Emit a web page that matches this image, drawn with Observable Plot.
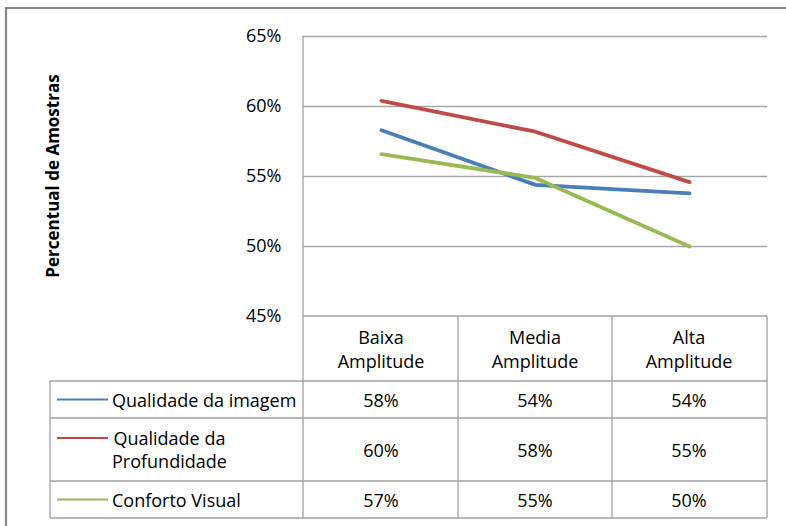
<!DOCTYPE html>
<html>
<head>
<meta charset="utf-8">
<script src="https://cdn.jsdelivr.net/npm/d3@7"></script>
<script src="https://cdn.jsdelivr.net/npm/@observablehq/plot@0.6"></script>
<style>
  html, body { margin: 0; padding: 0; background: #fff; overflow: hidden; }
  #chart svg { display: block; }
</style>
</head>
<body>
<div id="chart"></div>
<script>
// Amplitude categories along x
const categories = ["Baixa Amplitude", "Media Amplitude", "Alta Amplitude"];

// Series names, in table order
const seriesNames = ["Qualidade da imagem", "Qualidade da Profundidade", "Conforto Visual"];

// Share of samples per amplitude category
const qualidadeImagem = [0.583, 0.544, 0.538];
const qualidadeProfundidade = [0.604, 0.582, 0.546];
const confortoVisual = [0.566, 0.549, 0.500];

const seriesColors = ["#4A7EBB", "#BE4B48", "#98B954"];
const yTicks = [0.45, 0.50, 0.55, 0.60, 0.65];
const yTitle = "Percentual de Amostras";

const seriesValues = [qualidadeImagem, qualidadeProfundidade, confortoVisual];
const rows = seriesNames.flatMap((s, i) =>
  categories.map((c, j) => ({series: s, category: c, value: seriesValues[i][j]}))
);

const fontFamily = "'Open Sans', 'Noto Sans', sans-serif";
const fontSize = 18;
const gridColor = "#a6a6a6";
const pct = d3.format(".0%");

const plot = Plot.plot({
  width: 786,
  height: 526,
  marginLeft: 303,
  marginRight: 19,
  marginTop: 36,
  marginBottom: 210,
  style: {fontFamily, fontSize: `${fontSize}px`, color: "#000", background: "#fff", overflow: "hidden"},
  x: {type: "point", domain: categories, padding: 0.5, axis: null},
  y: {domain: [0.45, 0.65], ticks: yTicks, tickFormat: pct, tickSize: 0, tickPadding: 22, label: null},
  color: {domain: seriesNames, range: seriesColors},
  marks: [
    Plot.ruleY(yTicks.slice(1), {stroke: gridColor, strokeWidth: 1.3}),
    Plot.line(rows, {x: "category", y: "value", stroke: "series", z: "series", strokeWidth: 3.8, strokeLinejoin: "round", strokeLinecap: "round"})
  ]
});

document.getElementById("chart").appendChild(plot);

// Data table under the plot, aligned to the x scale's columns
const svg = d3.select(plot);
const xs = plot.scale("x");
const ys = plot.scale("y");
const [x0, x1] = xs.range;
const centers = categories.map(c => xs.apply(c));
const bounds = [x0, ...centers.slice(1).map((c, i) => (c + centers[i]) / 2), x1];
const yAxisTop = ys.apply(yTicks[yTicks.length - 1]);
const tableTop = ys.apply(yTicks[0]);
const tableLeft = 50;
const headerHeight = 65;
const rowHeights = [37, 63, 37];
const rowTops = [tableTop + headerHeight];
rowHeights.forEach(h => rowTops.push(rowTops[rowTops.length - 1] + h));
const tableBottom = rowTops[rowTops.length - 1];

const g = svg.append("g").attr("font-family", fontFamily).attr("font-size", fontSize).attr("fill", "#000");
const borderColor = "#a0a0a0", borderWidth = 1.3;
const hline = (y, xa, xb) => g.append("line").attr("x1", xa).attr("x2", xb).attr("y1", y).attr("y2", y).attr("stroke", borderColor).attr("stroke-width", borderWidth);
const vline = (x, ya, yb) => g.append("line").attr("x1", x).attr("x2", x).attr("y1", ya).attr("y2", yb).attr("stroke", borderColor).attr("stroke-width", borderWidth);

// vertical axis line and table grid
vline(x0, yAxisTop, tableBottom);
bounds.slice(1).forEach(b => vline(b, tableTop, tableBottom));
vline(tableLeft, rowTops[0], tableBottom);
hline(tableTop, x0, x1);
rowTops.forEach(y => hline(y, tableLeft, x1));

// column headers
const lineGap = 24;
categories.forEach((c, j) => {
  const lines = c.split(" ");
  const mid = tableTop + headerHeight / 2;
  lines.forEach((t, k) => {
    g.append("text").attr("x", centers[j]).attr("y", mid + (k - (lines.length - 1) / 2) * lineGap)
      .attr("text-anchor", "middle").attr("dominant-baseline", "central").text(t);
  });
});

// series rows: legend key, name, values
const seriesLines = [["Qualidade da imagem"], ["Qualidade da", "Profundidade"], ["Conforto Visual"]];
const keyX0 = 57, keyX1 = 108, labelX = 112;
seriesNames.forEach((s, i) => {
  const top = rowTops[i], h = rowHeights[i];
  const mid = top + h / 2;
  const lines = seriesLines[i];
  const firstY = mid - (lines.length - 1) / 2 * 23;
  g.append("line").attr("x1", keyX0).attr("x2", keyX1).attr("y1", firstY).attr("y2", firstY)
    .attr("stroke", seriesColors[i]).attr("stroke-width", 2.2);
  const texts = lines.map((t, k) => g.append("text").attr("y", firstY + k * 23)
    .attr("dominant-baseline", "central").attr("text-anchor", "middle").text(t));
  const widths = texts.map(t => t.node().getComputedTextLength());
  const blockW = Math.max(...widths);
  texts.forEach(t => t.attr("x", labelX + blockW / 2));
  seriesValues[i].forEach((v, j) => {
    g.append("text").attr("x", centers[j]).attr("y", mid).attr("text-anchor", "middle")
      .attr("dominant-baseline", "central").text(pct(v));
  });
});

// rotated y-axis title
svg.append("text").attr("transform", `translate(52,${(ys.range[0] + ys.range[1]) / 2}) rotate(-90)`)
  .attr("text-anchor", "middle").attr("dominant-baseline", "central")
  .attr("font-family", fontFamily).attr("font-size", 17).attr("font-weight", "bold").attr("fill", "#000")
  .text(yTitle);

// chart area border (top and left edges)
svg.append("path").attr("d", "M6,526V8H786").attr("fill", "none").attr("stroke", "#878787").attr("stroke-width", 2.2);
</script>
</body>
</html>
